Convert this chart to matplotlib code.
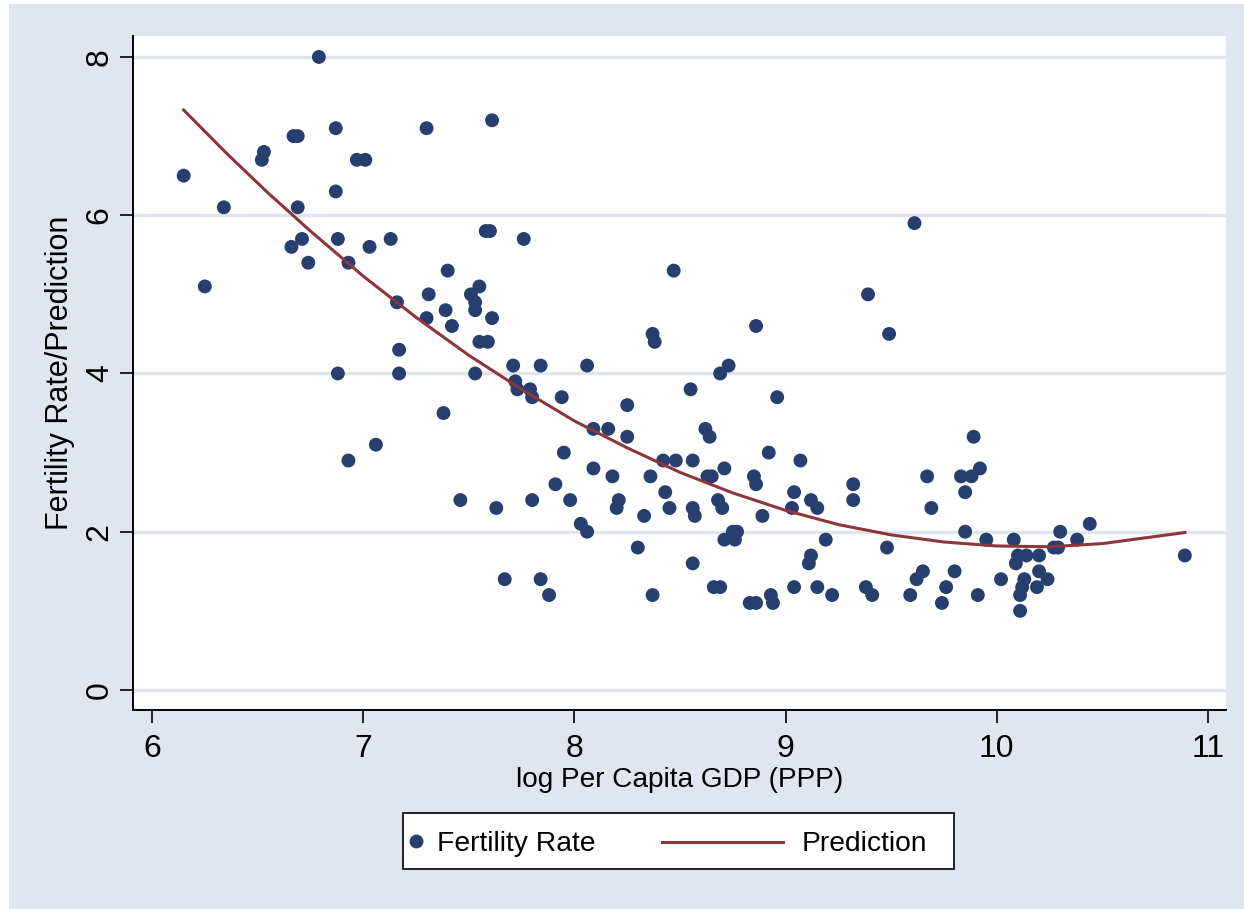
import matplotlib
matplotlib.use("Agg")
import matplotlib.pyplot as plt
from matplotlib.patches import Rectangle
from matplotlib.lines import Line2D

plt.rcParams['font.family'] = ['Liberation Sans', 'DejaVu Sans']

# Scatter data: log per capita GDP (PPP) and fertility rate
log_gdp = [
    6.15, 6.25, 6.34, 6.52, 6.53, 6.66, 6.67, 6.69, 6.69, 6.71, 6.74, 6.79, 6.87, 6.87, 6.88, 6.88,
    6.93, 6.93, 6.97, 7.01, 7.03, 7.06, 7.13, 7.16, 7.17, 7.17, 7.30, 7.31, 7.30, 7.38, 7.39, 7.40,
    7.42, 7.46, 7.51, 7.53, 7.53, 7.53, 7.55, 7.55, 7.59, 7.58, 7.60, 7.61, 7.61, 7.63, 7.67, 7.71,
    7.72, 7.73, 7.76, 7.79, 7.80, 7.80, 7.84, 7.84, 7.88,
    7.91, 7.94, 7.95, 7.98, 8.03, 8.06, 8.06, 8.09, 8.09, 8.16, 8.18, 8.21, 8.20, 8.25, 8.25, 8.30,
    8.33, 8.36, 8.37, 8.37, 8.38, 8.42, 8.43, 8.45, 8.47, 8.48, 8.55, 8.56, 8.56, 8.57, 8.56,
    8.62, 8.64, 8.63, 8.65, 8.66, 8.68, 8.69, 8.69, 8.70, 8.71, 8.71, 8.73, 8.75, 8.76, 8.77, 8.83,
    8.85, 8.86, 8.86, 8.86, 8.89, 8.92, 8.93, 8.94, 8.96, 9.03, 9.04, 9.04, 9.07, 9.11, 9.12, 9.12,
    9.15, 9.15, 9.19, 9.22, 9.32, 9.32, 9.38, 9.39, 9.41, 9.48, 9.49,
    9.59, 9.61, 9.62, 9.65, 9.67, 9.69, 9.74, 9.76, 9.80, 9.83, 9.85, 9.85, 9.88, 9.89, 9.91, 9.92,
    9.95, 10.02, 10.08, 10.09, 10.10, 10.11, 10.11, 10.12, 10.13, 10.14, 10.19, 10.20, 10.20, 10.24,
    10.27, 10.29, 10.30, 10.38, 10.44, 10.89,
]
fertility = [
    6.5, 5.1, 6.1, 6.7, 6.8, 5.6, 7.0, 7.0, 6.1, 5.7, 5.4, 8.0, 7.1, 6.3, 5.7, 4.0,
    2.9, 5.4, 6.7, 6.7, 5.6, 3.1, 5.7, 4.9, 4.3, 4.0, 7.1, 5.0, 4.7, 3.5, 4.8, 5.3,
    4.6, 2.4, 5.0, 4.8, 4.9, 4.0, 5.1, 4.4, 4.4, 5.8, 5.8, 7.2, 4.7, 2.3, 1.4, 4.1,
    3.9, 3.8, 5.7, 3.8, 3.7, 2.4, 4.1, 1.4, 1.2,
    2.6, 3.7, 3.0, 2.4, 2.1, 2.0, 4.1, 3.3, 2.8, 3.3, 2.7, 2.4, 2.3, 3.2, 3.6, 1.8,
    2.2, 2.7, 1.2, 4.5, 4.4, 2.9, 2.5, 2.3, 5.3, 2.9, 3.8, 2.9, 2.3, 2.2, 1.6,
    3.3, 3.2, 2.7, 2.7, 1.3, 2.4, 1.3, 4.0, 2.3, 2.8, 1.9, 4.1, 2.0, 1.9, 2.0, 1.1,
    2.7, 2.6, 1.1, 4.6, 2.2, 3.0, 1.2, 1.1, 3.7, 2.3, 2.5, 1.3, 2.9, 1.6, 1.7, 2.4,
    2.3, 1.3, 1.9, 1.2, 2.6, 2.4, 1.3, 5.0, 1.2, 1.8, 4.5,
    1.2, 5.9, 1.4, 1.5, 2.7, 2.3, 1.1, 1.3, 1.5, 2.7, 2.5, 2.0, 2.7, 3.2, 1.2, 2.8,
    1.9, 1.4, 1.9, 1.6, 1.7, 1.2, 1.0, 1.3, 1.4, 1.7, 1.3, 1.7, 1.5, 1.4,
    1.8, 1.8, 2.0, 1.9, 2.1, 1.7,
]

# Prediction line
pred_x = [6.15, 6.35, 6.55, 6.75, 7.0, 7.25, 7.5, 7.75, 8.0, 8.25, 8.5, 8.75, 9.0,
          9.25, 9.5, 9.75, 10.0, 10.25, 10.5, 10.89]
pred_y = [7.33, 6.79, 6.28, 5.80, 5.23, 4.71, 4.23, 3.80, 3.40, 3.06, 2.75, 2.49, 2.27,
          2.09, 1.96, 1.87, 1.82, 1.81, 1.85, 1.99]

x_ticks = [6, 7, 8, 9, 10, 11]
y_ticks = [0, 2, 4, 6, 8]
x_title = "log Per Capita GDP (PPP)"
y_title = "Fertility Rate/Prediction"
legend_labels = ["Fertility Rate", "Prediction"]

W, H = 1244, 909
BG = "#E0E5F0"
NAVY = "#263F6E"
MAROON = "#8E353B"

fig = plt.figure(figsize=(W / 100, H / 100), dpi=100)
fig.patch.set_facecolor("white")
fig.add_artist(Rectangle((9 / W, 0), 1 - 9 / W, 1 - 4 / H, transform=fig.transFigure,
                         facecolor=BG, edgecolor="none", zorder=-10))

ax = fig.add_axes([133 / W, 1 - 710 / H, (1226 - 133) / W, (710 - 36) / H])
ax.set_facecolor("white")
ax.set_xlim(5.910, 11.085)
ax.set_ylim(-0.253, 8.265)

ax.grid(True, axis="y", color="#DFE4EF", linewidth=2.4, zorder=0)
ax.grid(False, axis="x")
ax.set_axisbelow(True)

ax.scatter(log_gdp, fertility, s=100, color=NAVY, edgecolors="none", zorder=3)
ax.plot(pred_x, pred_y, color=MAROON, linewidth=2.2, zorder=4)

for sp in ["top", "right"]:
    ax.spines[sp].set_visible(False)
for sp in ["left", "bottom"]:
    ax.spines[sp].set_linewidth(1.4)
    ax.spines[sp].set_color("black")

ax.set_xticks(x_ticks)
ax.set_yticks(y_ticks)
ax.set_xticklabels([str(t) for t in x_ticks])
ax.set_yticklabels([str(t) for t in y_ticks])
ax.tick_params(axis="x", length=9.4, width=1.2, pad=8, labelsize=23)
ax.tick_params(axis="y", length=9.4, width=1.2, pad=3.7, labelsize=23, labelrotation=90)
for lbl in ax.get_yticklabels():
    lbl.set_verticalalignment("center")

ax.set_xlabel(x_title, fontsize=20.2, labelpad=2)
ax.set_ylabel(y_title, fontsize=22, labelpad=7)

# Legend box (drawn in figure pixels)
def fx(px):
    return px / W

def fy(py):
    return 1 - py / H

fig.add_artist(Rectangle((fx(403), fy(869)), fx(954) - fx(403), fy(813) - fy(869),
                         transform=fig.transFigure, facecolor="white", edgecolor="black",
                         linewidth=1.2, zorder=5))
fig.add_artist(Line2D([fx(416)], [fy(841)], transform=fig.transFigure, marker="o",
                      markersize=10, color=NAVY, markeredgewidth=0, linestyle="none", zorder=6))
fig.text(fx(437), fy(851), legend_labels[0], fontsize=20.3, va="baseline", ha="left", zorder=6)
fig.add_artist(Line2D([fx(662), fx(783)], [fy(842), fy(842)], transform=fig.transFigure,
                      color=MAROON, linewidth=2.2, zorder=6))
fig.text(fx(802), fy(851), legend_labels[1], fontsize=20.3, va="baseline", ha="left", zorder=6)

fig.savefig("out.png", dpi=100, facecolor=fig.get_facecolor())
